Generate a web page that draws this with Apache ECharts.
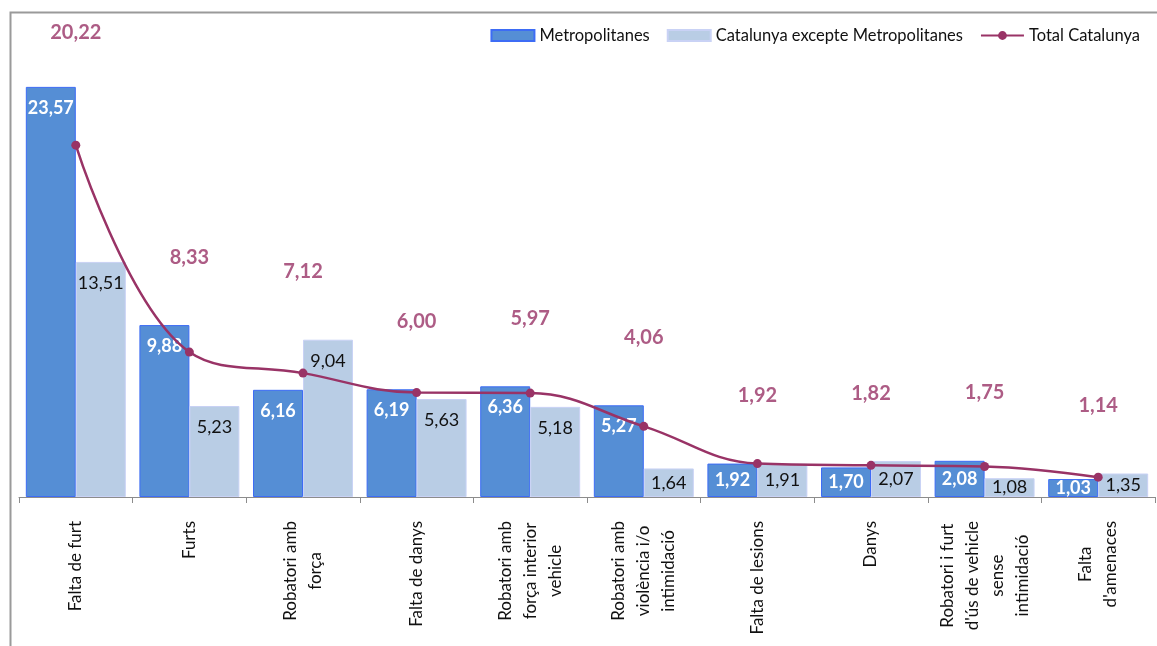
<!DOCTYPE html>
<html>
<head>
<meta charset="utf-8">
<script src="https://cdn.jsdelivr.net/npm/echarts@6/dist/echarts.min.js"></script>
<style>
    html, body { margin: 0; padding: 0; background: #fff; }
    #delictesChart { width: 1157px; height: 646px; }
</style>
</head>
<body>
<div id="delictesChart"></div>
<script>
    var categories = ['Falta de furt', 'Furts', 'Robatori amb\nforça', 'Falta de danys',
        'Robatori amb\nforça interior\nvehicle', 'Robatori amb\nviolència i/o\nintimidació',
        'Falta de lesions', 'Danys', 'Robatori i furt\nd\'ús de vehicle\nsense\nintimidació', 'Falta\nd\'amenaces']
    var metropolitanes = [23.57, 9.88, 6.16, 6.19, 6.36, 5.27, 1.92, 1.70, 2.08, 1.03]
    var restaCatalunya = [13.51, 5.23, 9.04, 5.63, 5.18, 1.64, 1.91, 2.07, 1.08, 1.35]
    var totalCatalunya = [20.22, 8.33, 7.12, 6.00, 5.97, 4.06, 1.92, 1.82, 1.75, 1.14]

    var purple = '#993366'
    var font = 'Lato, "Open Sans", sans-serif'
    var yMax = 25

    function fmt (v) {
        return v.toFixed(2).replace('.', ',')
    }

    // petites barres: etiqueta al mig
    function barItems (arr) {
        return arr.map(function (v) {
            return { value: v, label: { position: v < 3 ? 'inside' : 'insideTop' } }
        })
    }

    // etiquetes del total, per sobre de la barra més alta
    var totalLabelPos = totalCatalunya.map(function (t, i) {
        var top = Math.max(metropolitanes[i], restaCatalunya[i]) + 3.9
        return { value: Math.min(top, yMax + 1.7), total: t }
    })

    var option = {
        animation: false,
        textStyle: { fontFamily: font },
        graphic: [{
            type: 'rect',
            left: 8, top: 10,
            shape: { width: 1200, height: 700 },
            style: { fill: 'none', stroke: '#9a9a9a', lineWidth: 2 },
            silent: true
        }],
        legend: {
            top: 22,
            right: 12,
            itemWidth: 43,
            itemHeight: 11,
            itemGap: 17,
            textStyle: { fontSize: 16.5, color: '#111', fontFamily: font },
            data: [
                { name: 'Metropolitanes', icon: 'rect' },
                { name: 'Catalunya excepte Metropolitanes', icon: 'rect' },
                { name: 'Total Catalunya' }
            ]
        },
        grid: { left: 19, right: 2, top: 62, bottom: 149 },
        xAxis: {
            type: 'category',
            data: categories,
            axisLine: { lineStyle: { color: '#8c8c8c', width: 1 } },
            axisTick: { show: true, length: 6, lineStyle: { color: '#8c8c8c' } },
            axisLabel: {
                interval: 0,
                rotate: 90,
                margin: 24,
                color: '#111',
                // línies centrades entre elles
                formatter: function (v) {
                    return v.split('\n').map(function (l) { return '{c|' + l + '}' }).join('\n')
                },
                rich: {
                    c: {
                        align: 'center',
                        fontSize: 17,
                        lineHeight: 25,
                        color: '#111',
                        fontFamily: font
                    }
                }
            }
        },
        yAxis: {
            type: 'value',
            min: 0,
            max: yMax,
            show: false,
            splitLine: { show: false }
        },
        series: [
            {
                name: 'Metropolitanes',
                type: 'bar',
                barGap: '0%',
                barCategoryGap: '12%',
                itemStyle: { color: '#558ED5', borderColor: '#3D6CF5', borderWidth: 1 },
                label: {
                    show: true,
                    distance: 12,
                    color: '#fff',
                    fontWeight: 'bold',
                    fontSize: 18,
                    fontFamily: font,
                    formatter: function (p) { return fmt(p.value) }
                },
                data: barItems(metropolitanes)
            },
            {
                name: 'Catalunya excepte Metropolitanes',
                type: 'bar',
                itemStyle: { color: '#B9CDE5', borderColor: '#C9D2F5', borderWidth: 1 },
                label: {
                    show: true,
                    distance: 12,
                    color: '#111',
                    fontSize: 18,
                    fontFamily: font,
                    formatter: function (p) { return fmt(p.value) }
                },
                data: barItems(restaCatalunya)
            },
            {
                name: 'Total Catalunya',
                type: 'line',
                smooth: 0.4,
                symbol: 'circle',
                symbolSize: 9,
                lineStyle: { color: purple, width: 2.5 },
                itemStyle: { color: purple },
                z: 5,
                data: totalCatalunya
            },
            {
                name: 'etiquetes',
                type: 'scatter',
                symbolSize: 0,
                clip: false,
                silent: true,
                label: {
                    show: true,
                    position: 'inside',
                    color: purple,
                    fontWeight: 'bold',
                    fontSize: 20,
                    fontFamily: font,
                    formatter: function (p) { return fmt(p.data.total) }
                },
                data: totalLabelPos
            }
        ]
    }
    var myChart = echarts.init(document.getElementById('delictesChart'))
    myChart.setOption(option)
</script>
</body>
</html>
